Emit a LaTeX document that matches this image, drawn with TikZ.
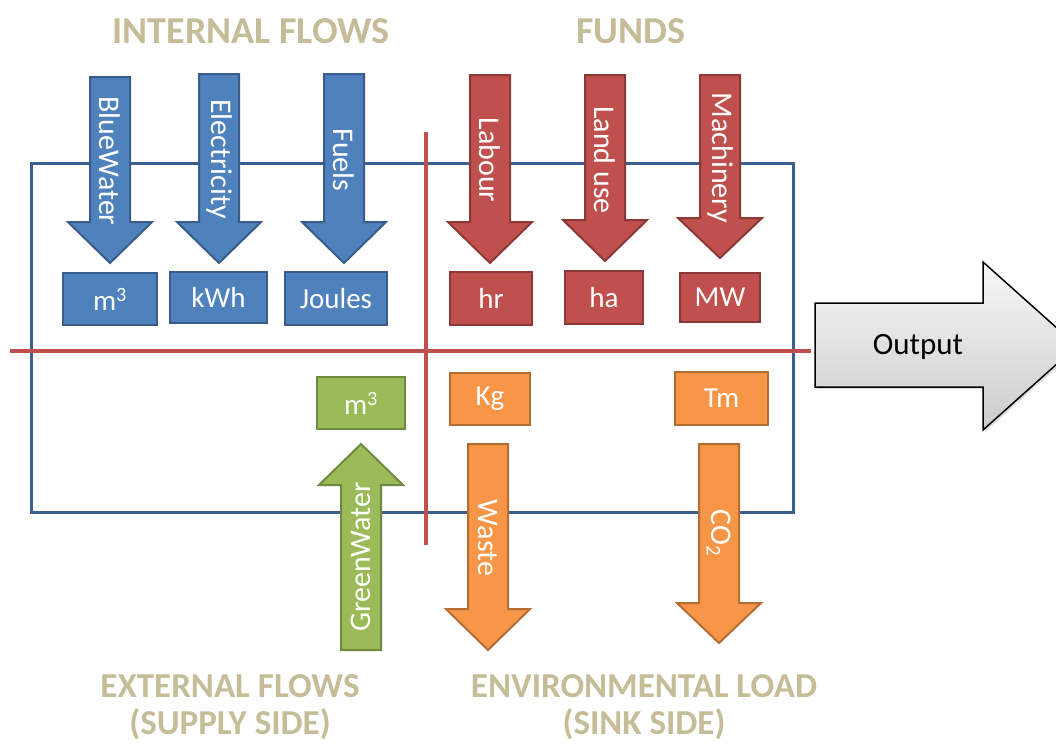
\documentclass[tikz,border=0pt]{standalone}
\usepackage{fontspec}
\setmainfont{Carlito}
\usetikzlibrary{shadows}

\definecolor{bluefill}{HTML}{4F81BD}
\definecolor{blueedge}{HTML}{385D8A}
\definecolor{redfill}{HTML}{C0504D}
\definecolor{rededge}{HTML}{8C3836}
\definecolor{greenfill}{HTML}{9BBB59}
\definecolor{greenedge}{HTML}{71893F}
\definecolor{orangefill}{HTML}{F79646}
\definecolor{orangeedge}{HTML}{B66D31}
\definecolor{frameblue}{HTML}{3B5F93}
\definecolor{titletan}{HTML}{C4BD97}

% arrow with vertical shaft: #1 style, #2 centre x, #3 tail y, #4 head base y, #5 tip y
\newcommand\vflow[5]{%
  \draw[#1] (#2-20,#3) -- (#2+20,#3) -- (#2+20,#4) -- (#2+42,#4) -- (#2,#5)
    -- (#2-42,#4) -- (#2-20,#4) -- cycle;}

\tikzset{
  x=1pt, y=-1pt,
  bluearr/.style={fill=bluefill, draw=blueedge, line width=2pt, line join=miter},
  redarr/.style={fill=redfill, draw=rededge, line width=2pt, line join=miter},
  greenarr/.style={fill=greenfill, draw=greenedge, line width=2pt, line join=miter},
  orangearr/.style={fill=orangefill, draw=orangeedge, line width=2pt, line join=miter},
  arrlabel/.style={text=white, font=\fontsize{30}{32}\selectfont, inner sep=0pt},
  unitbox/.style={line width=2pt, text=white, font=\fontsize{29}{31}\selectfont,
    inner sep=0pt, anchor=center},
  blueunit/.style={unitbox, fill=bluefill, draw=blueedge},
  redunit/.style={unitbox, fill=redfill, draw=rededge},
  greenunit/.style={unitbox, fill=greenfill, draw=greenedge},
  orangeunit/.style={unitbox, fill=orangefill, draw=orangeedge},
  heading/.style={text=titletan, font=\bfseries\fontsize{38}{39}\selectfont,
    inner sep=0pt, align=center},
  subheading/.style={heading, font=\bfseries\fontsize{35}{37}\selectfont},
  divider/.style={draw=redfill, line width=4.5pt},
}

\begin{document}
\begin{tikzpicture}
\useasboundingbox (0,0) rectangle (1056,744);

% system boundary
\draw[frameblue, line width=3pt] (31,163) rectangle (793,512);

% dividing lines
\coordinate (hl) at (10,351);
\coordinate (hr) at (811,351);
\coordinate (vt) at (426,132);
\coordinate (vb) at (426,545);
\draw[divider] (hl) -- (hr);
\draw[divider] (vt) -- (vb);

% internal flows
\vflow{bluearr}{110}{77}{222}{263}
\node[arrlabel, rotate=-90] (bluewater) at (110,161) {BlueWater};
\vflow{bluearr}{219}{74}{222}{263}
\node[arrlabel, rotate=-90] (electricity) at (219,159) {Electricity};
\vflow{bluearr}{344}{74}{222}{263}
\node[arrlabel, rotate=-90] (fuels) at (344,160) {Fuels};

% funds
\vflow{redarr}{490}{75}{222}{263}
\node[arrlabel, rotate=-90] (labour) at (490,160) {Labour};
\vflow{redarr}{605}{75}{220}{261}
\node[arrlabel, rotate=-90] (landuse) at (605,160) {Land use};
\vflow{redarr}{720}{75}{218}{258}
\node[arrlabel, rotate=-90] (machinery) at (720,158) {Machinery};

% units of the internal flows and funds
\node[blueunit, minimum width=94, minimum height=52] (u1) at (110,299) {m\textsuperscript{3}};
\node[blueunit, minimum width=97, minimum height=51] (u2) at (218.5,297.5) {kWh};
\node[blueunit, minimum width=102, minimum height=53] (u3) at (336,298.5) {Joules};
\node[redunit, minimum width=82, minimum height=53] (u4) at (491,298.5) {hr};
\node[redunit, minimum width=78, minimum height=53] (u5) at (604,297.5) {ha};
\node[redunit, minimum width=80, minimum height=49] (u6) at (720,297.5) {MW};

% external flows and environmental load
\node[greenunit, minimum width=88, minimum height=52] (u7) at (361,403) {m\textsuperscript{3}};
\node[orangeunit, minimum width=80, minimum height=52] (u8) at (490,399) {Kg};
\node[orangeunit, minimum width=93, minimum height=53] (u9) at (721.5,398.5) {Tm};

\vflow{greenarr}{361}{650}{485}{444}
\node[arrlabel, rotate=90] (greenwater) at (361,557) {GreenWater};
\vflow{orangearr}{488}{444}{609}{650}
\node[arrlabel, rotate=-90] (waste) at (488,538) {Waste};
\vflow{orangearr}{719}{444}{603}{643}
\node[arrlabel, rotate=-90] (co2) at (719,533) {CO\textsubscript{2}};

% output
\shade[top color=gray!6, bottom color=gray!40, draw=black, line width=1.5pt,
  drop shadow={shadow xshift=2pt, shadow yshift=-2pt, opacity=0.25}]
  (815,303) -- (983,303) -- (983,262) -- (1077,346) -- (983,430) -- (983,387)
  -- (815,387) -- cycle;
\node[font=\fontsize{31}{33}\selectfont, inner sep=0pt] (output) at (918,347) {Output};

% headings
\node[heading] (tInternal) at (251,31) {INTERNAL FLOWS};
\node[heading] (tFunds) at (631,31) {FUNDS};
\node[subheading] (tExternal) at (230,707) {EXTERNAL FLOWS\\(SUPPLY SIDE)};
\node[subheading] (tLoad) at (644,707) {ENVIRONMENTAL LOAD\\(SINK SIDE)};
\end{tikzpicture}
\end{document}
